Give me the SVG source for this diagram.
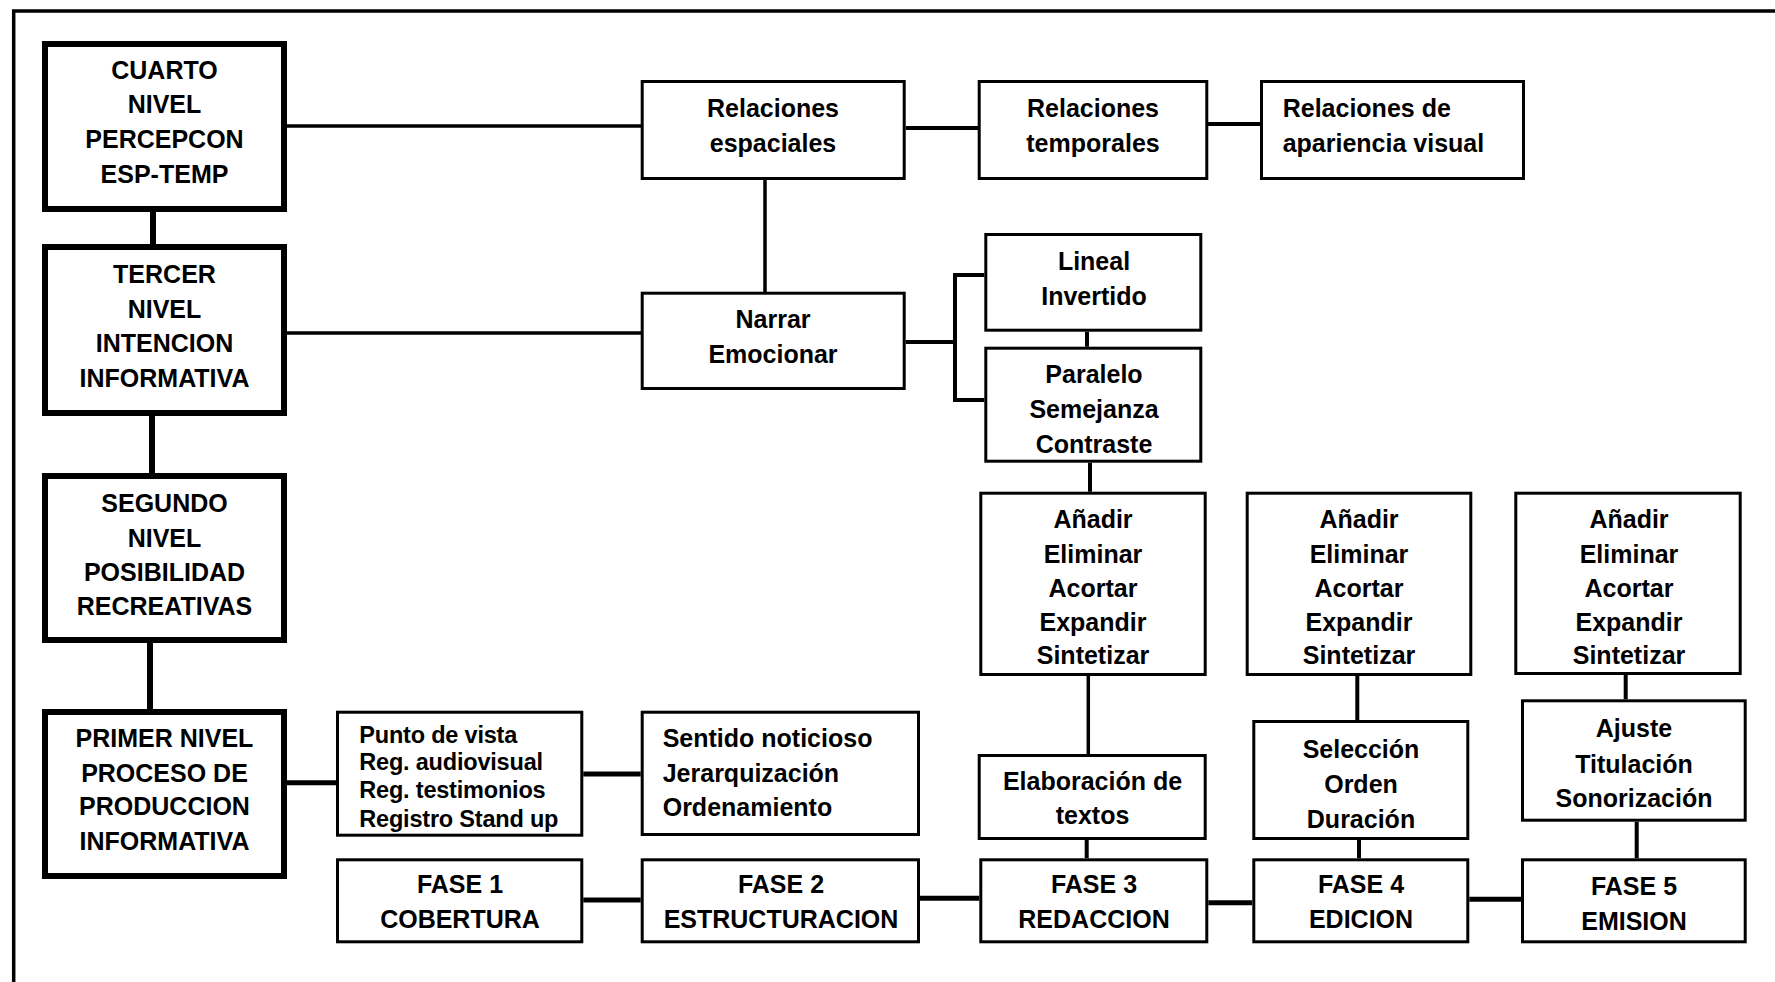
<svg xmlns="http://www.w3.org/2000/svg" width="1775" height="982" viewBox="0 0 1775 982">
<style>
.lvl{fill:#fff;stroke:#000;stroke-width:6}
.box{fill:#fff;stroke:#000;stroke-width:3}
text{font-family:"Liberation Sans",Arial,sans-serif;font-weight:bold;font-size:25px;fill:#000}
.c{text-anchor:middle}
.sm{font-size:23.5px;letter-spacing:-0.2px}
.cn{fill:none;stroke:#000}
</style>
<rect width="1775" height="982" fill="#fff"/>
<path d="M13.7,982 V11 H1775" fill="none" stroke="#000" stroke-width="3.5"/>
<g id="connectors">
<path class="cn" stroke-width="6" d="M153,212 V244 M152,416 V473 M150,643 V709"/>
<path class="cn" stroke-width="3.5" d="M287,126 H641 M287,333 H641 M765,180 V292 M1088.3,676 V754"/>
<path class="cn" stroke-width="4" d="M905.7,128 H978 M1208,124 H1260 M905.7,342 H955 M984.3,275 H955 V400 H984.3 M1087,331.7 V346.7 M1090,462.7 V491.7 M1086.7,840 V858.3 M1357.3,676 V720 M1359,840 V858.3 M1625.7,675 V699.3 M1636.7,821.7 V858.3"/>
<path class="cn" stroke-width="5" d="M287,782.7 H336 M583.3,774 H640.7 M583.3,900 H640.7 M920,898.3 H979.3 M1208.3,902.7 H1252.3 M1469.3,899.3 H1521"/>
</g>
<g id="cuarto"><rect class="lvl" x="45" y="44" width="239" height="165"/>
<text class="c" x="164.5" y="79">CUARTO</text><text class="c" x="164.5" y="113">NIVEL</text><text class="c" x="164.5" y="148">PERCEPCON</text><text class="c" x="164.5" y="183">ESP-TEMP</text></g>
<g id="tercer"><rect class="lvl" x="45" y="247" width="239" height="166"/>
<text class="c" x="164.5" y="283">TERCER</text><text class="c" x="164.5" y="318">NIVEL</text><text class="c" x="164.5" y="352">INTENCION</text><text class="c" x="164.5" y="387">INFORMATIVA</text></g>
<g id="segundo"><rect class="lvl" x="45" y="476" width="239" height="164"/>
<text class="c" x="164.5" y="511.7">SEGUNDO</text><text class="c" x="164.5" y="546.7">NIVEL</text><text class="c" x="164.5" y="581">POSIBILIDAD</text><text class="c" x="164.5" y="615">RECREATIVAS</text></g>
<g id="primer"><rect class="lvl" x="45" y="712" width="239" height="164"/>
<text class="c" x="164.5" y="746.7">PRIMER NIVEL</text><text class="c" x="164.5" y="781.7">PROCESO DE</text><text class="c" x="164.5" y="815">PRODUCCION</text><text class="c" x="164.5" y="850">INFORMATIVA</text></g>
<g id="rel-espaciales"><rect class="box" x="642.2" y="81.5" width="262" height="97"/>
<text class="c" x="773" y="117">Relaciones</text><text class="c" x="773" y="152">espaciales</text></g>
<g id="rel-temporales"><rect class="box" x="979.2" y="81.5" width="227.6" height="97"/>
<text class="c" x="1093" y="117">Relaciones</text><text class="c" x="1093" y="152">temporales</text></g>
<g id="rel-apariencia"><rect class="box" x="1261.5" y="81.5" width="262" height="97"/>
<text x="1282.7" y="117">Relaciones de</text><text x="1282.7" y="152">apariencia visual</text></g>
<g id="narrar"><rect class="box" x="642.2" y="293.2" width="262" height="95.3"/>
<text class="c" x="773" y="328">Narrar</text><text class="c" x="773" y="363">Emocionar</text></g>
<g id="lineal"><rect class="box" x="985.8" y="234.5" width="215" height="95.7"/>
<text class="c" x="1094" y="270">Lineal</text><text class="c" x="1094" y="305">Invertido</text></g>
<g id="paralelo"><rect class="box" x="985.8" y="348.2" width="215" height="113"/>
<text class="c" x="1094" y="383">Paralelo</text><text class="c" x="1094" y="418">Semejanza</text><text class="c" x="1094" y="453">Contraste</text></g>
<g id="anadir1"><rect class="box" x="980.8" y="493.2" width="224.4" height="181.3"/>
<text class="c" x="1093" y="528.3">Añadir</text><text class="c" x="1093" y="562.7">Eliminar</text><text class="c" x="1093" y="596.7">Acortar</text><text class="c" x="1093" y="630.7">Expandir</text><text class="c" x="1093" y="664.3">Sintetizar</text></g>
<g id="anadir2"><rect class="box" x="1247.2" y="493.2" width="223.6" height="181.3"/>
<text class="c" x="1359" y="528.3">Añadir</text><text class="c" x="1359" y="562.7">Eliminar</text><text class="c" x="1359" y="596.7">Acortar</text><text class="c" x="1359" y="630.7">Expandir</text><text class="c" x="1359" y="664.3">Sintetizar</text></g>
<g id="anadir3"><rect class="box" x="1515.8" y="493.2" width="224.4" height="180.3"/>
<text class="c" x="1629" y="528.3">Añadir</text><text class="c" x="1629" y="562.7">Eliminar</text><text class="c" x="1629" y="596.7">Acortar</text><text class="c" x="1629" y="630.7">Expandir</text><text class="c" x="1629" y="664.3">Sintetizar</text></g>
<g id="elaboracion"><rect class="box" x="979.2" y="755.5" width="226" height="83"/>
<text class="c" x="1092.5" y="790">Elaboración de</text><text class="c" x="1092.5" y="824.3">textos</text></g>
<g id="seleccion"><rect class="box" x="1253.8" y="721.5" width="214" height="117"/>
<text class="c" x="1361" y="758.3">Selección</text><text class="c" x="1361" y="793.3">Orden</text><text class="c" x="1361" y="827.7">Duración</text></g>
<g id="ajuste"><rect class="box" x="1522.5" y="700.8" width="222.7" height="119.4"/>
<text class="c" x="1634" y="736.7">Ajuste</text><text class="c" x="1634" y="772.7">Titulación</text><text class="c" x="1634" y="806.7">Sonorización</text></g>
<g id="punto"><rect class="box" x="337.5" y="712.2" width="244.3" height="123"/>
<text class="sm" x="359.3" y="742.7">Punto de vista</text><text class="sm" x="359.3" y="770">Reg. audiovisual</text><text class="sm" x="359.3" y="798.3">Reg. testimonios</text><text class="sm" x="359.3" y="826.7">Registro Stand up</text></g>
<g id="sentido"><rect class="box" x="642.2" y="712.2" width="276.3" height="122.3"/>
<text x="662.7" y="746.7">Sentido noticioso</text><text x="662.7" y="781.7">Jerarquización</text><text x="662.7" y="816">Ordenamiento</text></g>
<g id="fase1"><rect class="box" x="337.5" y="859.8" width="244.3" height="82"/>
<text class="c" x="460" y="893.3">FASE 1</text><text class="c" x="460" y="928.3">COBERTURA</text></g>
<g id="fase2"><rect class="box" x="642.2" y="859.8" width="276.3" height="82"/>
<text class="c" x="781" y="893.3">FASE 2</text><text class="c" x="781" y="928.3">ESTRUCTURACION</text></g>
<g id="fase3"><rect class="box" x="980.8" y="859.8" width="226" height="82"/>
<text class="c" x="1094" y="893.3">FASE 3</text><text class="c" x="1094" y="928.3">REDACCION</text></g>
<g id="fase4"><rect class="box" x="1253.8" y="859.8" width="214" height="82"/>
<text class="c" x="1361" y="893.3">FASE 4</text><text class="c" x="1361" y="928.3">EDICION</text></g>
<g id="fase5"><rect class="box" x="1522.5" y="859.8" width="222.7" height="82"/>
<text class="c" x="1634" y="894.5">FASE 5</text><text class="c" x="1634" y="929.5">EMISION</text></g>
</svg>
